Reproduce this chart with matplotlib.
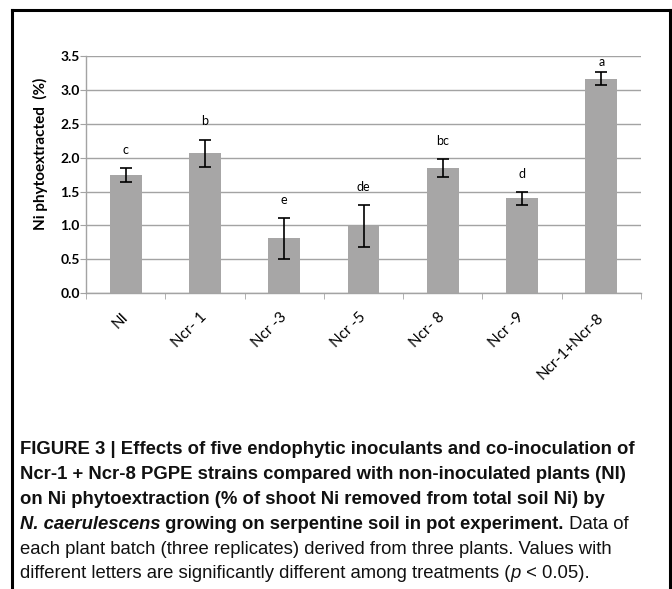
import numpy as np
import matplotlib
matplotlib.use("Agg")
import matplotlib.pyplot as plt
from matplotlib import font_manager

# ---------------- data ----------------
categories = ["NI", "Ncr- 1", "Ncr -3", "Ncr -5", "Ncr- 8", "Ncr -9", "Ncr-1+Ncr-8"]
means = [1.74, 2.07, 0.81, 0.99, 1.85, 1.40, 3.17]
errors = [0.105, 0.20, 0.30, 0.31, 0.13, 0.095, 0.10]
letters = ["c", "b", "e", "de", "bc", "d", "a"]
yticks = [0.0, 0.5, 1.0, 1.5, 2.0, 2.5, 3.0, 3.5]
ylabel = "Ni phytoextracted  (%)"

W, H = 672, 589
fig = plt.figure(figsize=(W / 100, H / 100), dpi=100)
fig.patch.set_facecolor("white")

def has_font(name):
    try:
        font_manager.findfont(font_manager.FontProperties(family=name), fallback_to_default=False)
        return True
    except Exception:
        return False

chart_font = "Lato" if has_font("Lato") else "DejaVu Sans"
cap_font = "Liberation Sans Narrow" if has_font("Liberation Sans Narrow") else "Liberation Sans"

# ---------------- axes ----------------
ax_l, ax_r, ax_t, ax_b = 86, 641, 56.4, 293
ax = fig.add_axes([ax_l / W, 1 - ax_b / H, (ax_r - ax_l) / W, (ax_b - ax_t) / H])
x = np.arange(len(categories))
grid_c = "#a3a3a3"
ax.bar(x, means, width=0.4, color="#a7a6a6", zorder=2)
ax.errorbar(x, means, yerr=errors, fmt="none", ecolor="black", elinewidth=1.2,
            capsize=4, capthick=1.2, zorder=3)
ax.set_xlim(-0.5, len(categories) - 0.5)
ax.set_ylim(0, 3.5)
ax.set_yticks(yticks)
ax.set_yticklabels([f"{v:.1f}" for v in yticks], fontsize=10, fontweight="bold",
                   family=chart_font)
ax.yaxis.grid(True, color=grid_c, linewidth=1.0, zorder=0)
ax.set_axisbelow(True)
for s in ["top", "right"]:
    ax.spines[s].set_visible(False)
for s in ["left", "bottom"]:
    ax.spines[s].set_color(grid_c)
    ax.spines[s].set_linewidth(1.0)
ax.tick_params(axis="y", length=4, color=grid_c, pad=0.5)

ax.set_xticks(x)
ax.set_xticks(np.arange(len(categories) + 1) - 0.5, minor=True)
ax.tick_params(axis="x", which="major", length=0, pad=16)
ax.tick_params(axis="x", which="minor", length=4, color=grid_c)
ax.set_xticklabels(categories, rotation=45, ha="right", va="center",
                   rotation_mode="anchor", fontsize=11, family=chart_font)

for xi, m, e, lab in zip(x, means, errors, letters):
    top = m + e
    ytxt = min(top + 0.27, 3.42)
    ax.text(xi, ytxt, lab, ha="center", va="center", fontsize=9, family=chart_font)

fig.text(40 / W, 1 - 154 / H, ylabel, rotation=90, ha="center", va="center",
         fontsize=11, fontweight="bold", family=chart_font)

# ---------------- frame ----------------
lw = 2.2
fig.add_artist(plt.Line2D([11.5 / W, 11.5 / W], [0, 1 - 9.5 / H], color="black", lw=lw,
                          transform=fig.transFigure))
fig.add_artist(plt.Line2D([669.5 / W, 669.5 / W], [0, 1 - 9.5 / H], color="black", lw=lw,
                          transform=fig.transFigure))
fig.add_artist(plt.Line2D([11.5 / W, 669.5 / W], [1 - 9.5 / H, 1 - 9.5 / H], color="black",
                          lw=lw, transform=fig.transFigure))

# ---------------- caption ----------------
caption = [
    [("FIGURE 3 | Effects of five endophytic inoculants and co-inoculation of", "bold", "normal")],
    [("Ncr-1 + Ncr-8 PGPE strains compared with non-inoculated plants (NI)", "bold", "normal")],
    [("on Ni phytoextraction (% of shoot Ni removed from total soil Ni) by", "bold", "normal")],
    [("N. caerulescens", "bold", "italic"),
     (" growing on serpentine soil in pot experiment.", "bold", "normal"),
     (" Data of", "normal", "normal")],
    [("each plant batch (three replicates) derived from three plants. Values with", "normal", "normal")],
    [("different letters are significantly different among treatments (", "normal", "normal"),
     ("p", "normal", "italic"), (" < 0.05).", "normal", "normal")],
]
baselines = [454, 479, 504, 529, 554, 578]

renderer = fig.canvas.get_renderer()

def measure(txt, weight, fs):
    t = fig.text(0, 0, txt, fontsize=fs, fontweight=weight, family=cap_font)
    w = t.get_window_extent(renderer).width
    t.remove()
    return w

fs_b = 10 * (655 - 20) / measure(caption[0][0][0], "bold", 10)
fs_n = 10 * (598 - 20) / measure(caption[4][0][0], "normal", 10)
fs = (fs_b + fs_n) / 2

for segs, yb in zip(caption, baselines):
    xp = 20
    for txt, weight, style in segs:
        t = fig.text(xp / W, 1 - yb / H, txt, fontsize=fs, fontweight=weight, fontstyle=style,
                     family=cap_font, ha="left", va="baseline", color="#111111")
        bb = t.get_window_extent(renderer)
        xp = bb.x1

fig.savefig("out.png", dpi=100, facecolor="white")
